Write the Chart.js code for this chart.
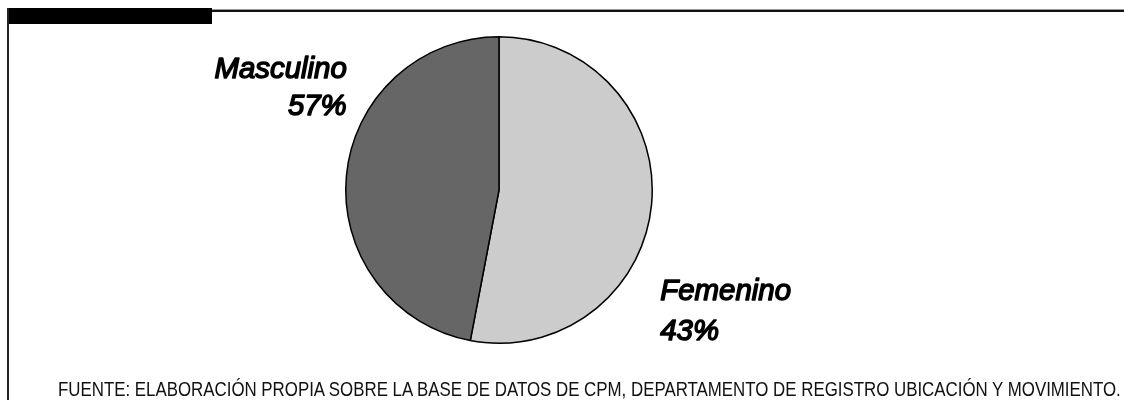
<!DOCTYPE html>
<html>
<head>
<meta charset="utf-8">
<script src="https://cdn.jsdelivr.net/npm/chart.js@4.4.0/dist/chart.umd.min.js"></script>
<style>
  html, body { margin: 0; padding: 0; background: #fff; }
  .wrap { position: relative; width: 1124px; height: 400px; overflow: hidden; }
  .topbar { position: absolute; left: 7px; top: 8px; width: 205px; height: 16px; background: #000; }
  .topline { position: absolute; left: 212px; top: 9px; right: 0; height: 1px; background: #999; }
  .topline2 { position: absolute; left: 212px; top: 10px; right: 0; height: 2px; background: #111; }
  .leftline { position: absolute; left: 7px; top: 8px; bottom: 0; width: 2px; background: #222; }
  #chartBox { position: absolute; left: 0; top: 0; width: 1124px; height: 400px; }
  .fuente { position: absolute; left: 58px; top: 379px; font-family: "Liberation Sans", Arial, sans-serif;
            font-size: 19.5px; line-height: 20px; color: #111; white-space: nowrap; transform-origin: left top; }
</style>
</head>
<body>
<div class="wrap">
  <div class="topline"></div>
  <div class="topline2"></div>
  <div class="topbar"></div>
  <div class="leftline"></div>
  <div id="chartBox"><canvas id="pieChart"></canvas></div>
  <div class="fuente" id="fuente">FUENTE: ELABORACIÓN PROPIA SOBRE LA BASE DE DATOS DE CPM, DEPARTAMENTO DE REGISTRO UBICACIÓN Y MOVIMIENTO.</div>
</div>
<script>
// Data (slice sizes as drawn, labels as printed)
const categories = ['Femenino', 'Masculino'];
const sliceValues = [53, 47];
const printedPct = ['43%', '57%'];
const sliceColors = ['#cccccc', '#666666'];

// squeeze the source line to the width it has in the reference
const fuente = document.getElementById('fuente');
const targetWidth = 1063;
fuente.style.transform = 'scaleX(' + (targetWidth / fuente.offsetWidth) + ')';

// draw narrowed, slightly heavy text (the reference uses a semibold italic)
function narrowText(ctx, text, x, y, align, squeeze) {
    const w = ctx.measureText(text).width * squeeze;
    const left = align === 'right' ? x - w : x;
    ctx.save();
    ctx.translate(left, y);
    ctx.scale(squeeze, 1);
    ctx.textAlign = 'left';
    ctx.fillText(text, 0, 0);
    ctx.strokeText(text, 0, 0);
    ctx.restore();
}

// labels beside the pie
const sliceLabels = {
    id: 'sliceLabels',
    afterDraw(chart) {
        const ctx = chart.ctx;
        const arc = chart.getDatasetMeta(0).data[0];
        const cx = arc.x, cy = arc.y, r = arc.outerRadius;
        ctx.save();
        ctx.fillStyle = '#000';
        ctx.strokeStyle = '#000';
        ctx.lineWidth = 1.5;
        ctx.lineJoin = 'round';
        ctx.font = 'italic 30px "Liberation Sans", Arial, sans-serif';
        ctx.textBaseline = 'alphabetic';
        // Masculino, left of the pie
        narrowText(ctx, categories[1], cx - r + 1, cy - 112, 'right', 0.98);
        narrowText(ctx, printedPct[1], cx - r + 1, cy - 75, 'right', 0.98);
        // Femenino, right of the pie
        narrowText(ctx, categories[0], cx + r + 8, cy + 110, 'left', 0.98);
        narrowText(ctx, printedPct[0], cx + r + 8, cy + 150, 'left', 0.98);
        ctx.restore();
    }
};

new Chart(document.getElementById('pieChart'), {
    type: 'pie',
    data: {
        labels: categories,
        datasets: [{
            data: sliceValues,
            backgroundColor: sliceColors,
            borderColor: '#000',
            borderWidth: 1.5
        }]
    },
    options: {
        responsive: true,
        maintainAspectRatio: false,
        animation: false,
        layout: { padding: { top: 36, bottom: 56, left: 0, right: 126 } },
        plugins: {
            legend: { display: false },
            tooltip: { enabled: false }
        }
    },
    plugins: [sliceLabels]
});
</script>
</body>
</html>
